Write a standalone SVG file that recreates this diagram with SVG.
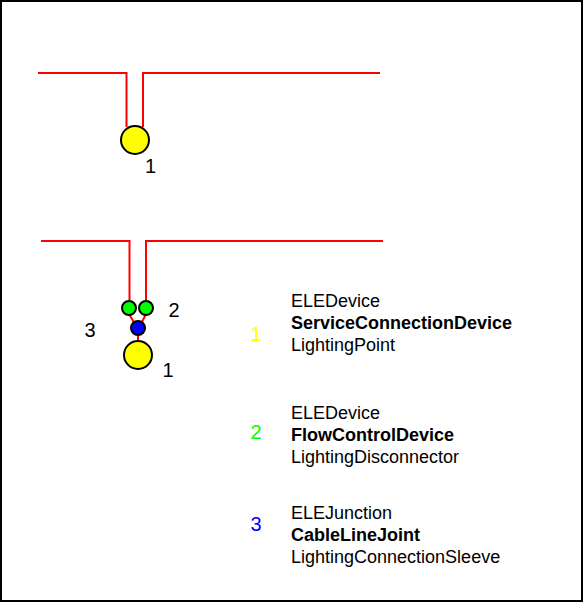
<svg xmlns="http://www.w3.org/2000/svg" width="584" height="604" viewBox="0 0 584 604">
<style>
text{font-family:"Liberation Sans",Arial,sans-serif;font-size:18px;fill:#000}
.b{font-weight:bold}
.n{font-size:20px}
.w{fill:none;stroke:#f00;stroke-width:2}
.c{stroke:#000;stroke-width:2}
.y{fill:#ff0}.g{fill:#0f0}.u{fill:#00f}
</style>
<rect id="frame" x="1" y="1" width="581" height="600" fill="#fff" stroke="#000" stroke-width="2"/>
<g id="connectors">
<path class="w" d="M38 73H126.500V127"/>
<path class="w" d="M380 73H143V127"/>
<path class="w" d="M41 241H129.500V300"/>
<path class="w" d="M383 241H146V300"/>
<path class="w" d="M129 314L135 324"/>
<path class="w" d="M146 314L141 324"/>
<path class="w" d="M138 334V342"/>
</g>
<g id="node-top-1"><circle class="c y" cx="135" cy="140" r="14"/><text class="n" x="145" y="173">1</text></g>
<g id="node-bottom-1"><circle class="c y" cx="138" cy="355" r="14"/><text class="n" x="162.500" y="377">1</text></g>
<g id="node-bottom-2a"><circle class="c g" cx="129" cy="308" r="7"/></g>
<g id="node-bottom-2b"><circle class="c g" cx="146" cy="308" r="7"/><text class="n" x="168.500" y="317">2</text></g>
<g id="node-bottom-3"><circle class="c u" cx="138" cy="328" r="7"/><text class="n" x="84.500" y="337">3</text></g>
<g id="legend-1"><text class="n" x="250.500" y="341" style="fill:#ff0">1</text><text x="291" y="307">ELEDevice</text><text class="b" x="291" y="329">ServiceConnectionDevice</text><text x="291" y="351">LightingPoint</text></g>
<g id="legend-2"><text class="n" x="250.500" y="439" style="fill:#0f0">2</text><text x="291" y="419">ELEDevice</text><text class="b" x="291" y="441">FlowControlDevice</text><text x="291" y="463">LightingDisconnector</text></g>
<g id="legend-3"><text class="n" x="250.500" y="531" style="fill:#00f">3</text><text x="291" y="519">ELEJunction</text><text class="b" x="291" y="541">CableLineJoint</text><text x="291" y="563">LightingConnectionSleeve</text></g>
</svg>
